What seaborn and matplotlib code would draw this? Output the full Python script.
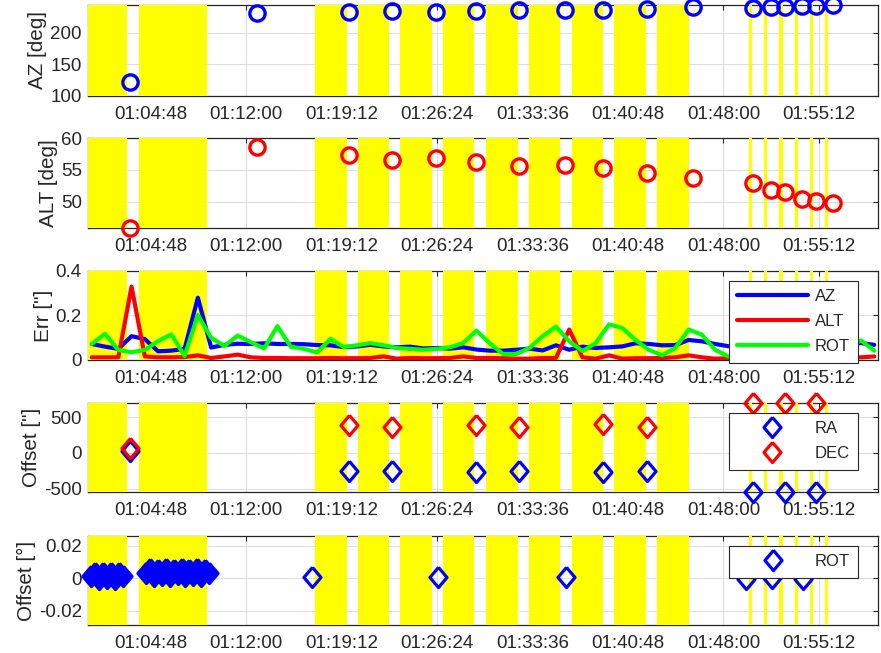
import numpy as np
import pandas as pd
import matplotlib
matplotlib.use("Agg")
import matplotlib.pyplot as plt
from matplotlib.lines import Line2D
import seaborn as sns

DAY = "2021-01-01 "

# shaded (yellow) intervals
band_start = ["01:00:00", "01:03:56", "01:17:12", "01:20:27", "01:23:37", "01:26:51", "01:30:06",
              "01:33:20", "01:36:35", "01:39:45", "01:42:59",
              "01:49:54", "01:51:04", "01:52:13", "01:53:24", "01:54:32", "01:55:40"]
band_end = ["01:03:02", "01:09:04", "01:19:37", "01:22:47", "01:26:01", "01:29:11", "01:32:30",
            "01:35:40", "01:38:55", "01:42:09", "01:45:24",
            "01:50:08", "01:51:18", "01:52:27", "01:53:38", "01:54:46", "01:55:54"]

# pointing samples
pt_time = ["01:03:15", "01:12:51", "01:19:45", "01:23:00", "01:26:18", "01:29:19", "01:32:35", "01:36:03",
           "01:38:56", "01:42:13", "01:45:43", "01:50:15", "01:51:35", "01:52:38", "01:53:54", "01:54:57",
           "01:56:17"]
az = [122.6, 231.6, 233, 234, 233, 234.7, 235.8, 235.8, 235.8, 236.8, 240, 238.4, 240, 241, 242, 242, 243.7]
alt = [45.9, 58.6, 57.4, 56.6, 56.8, 56.3, 55.6, 55.8, 55.3, 54.5, 53.8, 52.9, 51.8, 51.5, 50.5, 50.2, 49.8]

# RA / DEC offsets
off_time = ["01:03:15", "01:19:45", "01:23:00", "01:29:19", "01:32:35", "01:38:56", "01:42:13",
            "01:50:15", "01:52:38", "01:54:57"]
ra = [25, -257, -247, -265, -247, -265, -247, -545, -545, -545]
dec = [65, 395, 357, 395, 357, 404, 357, 697, 697, 697]

# tracking errors, one sample per minute
err_first = "01:00:22"
err_az = [0.072, 0.06, 0.05, 0.107, 0.094, 0.039, 0.042, 0.05, 0.28, 0.056,
          0.068, 0.073, 0.072, 0.075, 0.072, 0.072, 0.071, 0.067, 0.066, 0.058,
          0.061, 0.068, 0.061, 0.057, 0.06, 0.052, 0.054, 0.051, 0.057, 0.047,
          0.042, 0.042, 0.046, 0.051, 0.043, 0.066, 0.046, 0.06, 0.054, 0.057,
          0.061, 0.075, 0.072, 0.066, 0.067, 0.09, 0.084, 0.072, 0.062, 0.07,
          0.068, 0.065, 0.07, 0.066, 0.064, 0.07, 0.072, 0.075, 0.076, 0.068]
err_alt = [0.012, 0.012, 0.012, 0.33, 0.016, 0.012, 0.012, 0.013, 0.021, 0.009,
           0.016, 0.024, 0.012, 0.009, 0.009, 0.008, 0.008, 0.008, 0.009, 0.008,
           0.008, 0.009, 0.016, 0.006, 0.009, 0.008, 0.008, 0.009, 0.016, 0.009,
           0.009, 0.008, 0.006, 0.006, 0.009, 0.009, 0.137, 0.012, 0.006, 0.021,
           0.006, 0.008, 0.008, 0.009, 0.012, 0.021, 0.012, 0.006, 0.008, 0.01,
           0.012, 0.009, 0.011, 0.01, 0.012, 0.009, 0.01, 0.011, 0.012, 0.016]
err_rot = [0.072, 0.118, 0.045, 0.035, 0.045, 0.085, 0.115, 0.018, 0.202, 0.1,
           0.063, 0.11, 0.08, 0.052, 0.152, 0.06, 0.05, 0.034, 0.095, 0.058,
           0.066, 0.076, 0.066, 0.054, 0.05, 0.046, 0.05, 0.057, 0.076, 0.132,
           0.076, 0.027, 0.027, 0.054, 0.107, 0.15, 0.084, 0.04, 0.076, 0.16,
           0.144, 0.09, 0.046, 0.021, 0.054, 0.137, 0.114, 0.046, 0.016, 0.03,
           0.045, 0.05, 0.04, 0.05, 0.06, 0.045, 0.05, 0.055, 0.088, 0.042]

# rotator offsets: dense runs while the offsets were being applied, then single checks
rot_run_time = ["01:00:18", "01:00:36", "01:00:54", "01:01:12", "01:01:30", "01:01:48", "01:02:06",
                "01:02:24", "01:02:42",
                "01:04:26", "01:04:44", "01:05:02", "01:05:20", "01:05:38", "01:05:56", "01:06:14",
                "01:06:32", "01:06:50", "01:07:08", "01:07:26", "01:07:44", "01:08:02", "01:08:20",
                "01:08:38", "01:08:56", "01:09:14"]
rot_run = [0.0015, 0.0035, -0.0005, 0.003, 0.0, 0.0035, -0.0005, 0.003, 0.0015,
           0.0035, 0.0055, 0.0015, 0.005, 0.002, 0.0055, 0.0015, 0.005, 0.0025, 0.0055, 0.0015,
           0.005, 0.002, 0.0055, 0.0015, 0.005, 0.0035]
rot_time = ["01:16:57", "01:26:29", "01:36:08", "01:49:42", "01:51:41", "01:54:01"]
rot = [0.0006, 0.0006, 0.0006, -0.0002, 0.0002, -0.0002]

xtick_labels = ["01:04:48", "01:12:00", "01:19:12", "01:26:24", "01:33:36", "01:40:48", "01:48:00", "01:55:12"]
x_range = ["01:00:05", "01:59:39"]


def to_time(values):
    return pd.to_datetime([DAY + v for v in values])


sns.set_theme(style="white")
plt.rcParams["font.family"] = ["Liberation Sans", "DejaVu Sans"]

INK = "#262626"
YELLOW = (1, 1, 0)
DIAMOND = [(0, 1), (0.85, 0), (0, -1), (-0.85, 0), (0, 1)]
DMS = 14.5

fig = plt.figure(figsize=(8.81, 6.53), dpi=100)
positions = [[0.0999, 0.853, 0.8967, 0.1394],
             [0.0999, 0.6508, 0.8967, 0.1378],
             [0.0999, 0.4487, 0.8967, 0.1363],
             [0.0999, 0.2466, 0.8967, 0.1363],
             [0.0999, 0.0429, 0.8967, 0.1363]]
axes = [fig.add_axes(p) for p in positions]

# AZ
sns.lineplot(x=to_time(pt_time), y=az, ax=axes[0], estimator=None, sort=False, linestyle="",
             marker="o", ms=11, mfc="none", mec="blue", mew=2.4, color="blue", zorder=5, clip_on=False)
# ALT
sns.lineplot(x=to_time(pt_time), y=alt, ax=axes[1], estimator=None, sort=False, linestyle="",
             marker="o", ms=11, mfc="none", mec="red", mew=2.4, color="red", zorder=5, clip_on=False)

# Err
err_time = pd.date_range(DAY + err_first, periods=len(err_az), freq="60s")
err_df = pd.DataFrame({
    "time": np.concatenate([err_time] * 3),
    "err": err_az + err_alt + err_rot,
    "axis": ["AZ"] * len(err_az) + ["ALT"] * len(err_alt) + ["ROT"] * len(err_rot),
})
err_colors = {"AZ": "blue", "ALT": "red", "ROT": (0, 1, 0)}
sns.lineplot(data=err_df, x="time", y="err", hue="axis", hue_order=["AZ", "ALT", "ROT"],
             palette=err_colors, estimator=None, sort=False, lw=3, legend=False, ax=axes[2], zorder=5)

# RA / DEC offsets
sns.lineplot(x=to_time(off_time), y=ra, ax=axes[3], estimator=None, sort=False, linestyle="",
             marker=DIAMOND, ms=DMS, mfc="none", mec="blue", mew=2.3, color="blue", zorder=5, clip_on=False)
sns.lineplot(x=to_time(off_time), y=dec, ax=axes[3], estimator=None, sort=False, linestyle="",
             marker=DIAMOND, ms=DMS, mfc="none", mec="red", mew=2.3, color="red", zorder=6, clip_on=False)

# ROT offsets
sns.lineplot(x=to_time(rot_run_time), y=rot_run, ax=axes[4], estimator=None, sort=False, linestyle="",
             marker=DIAMOND, ms=DMS, mfc="blue", mec="blue", mew=2.3, color="blue", zorder=5, clip_on=False)
sns.lineplot(x=to_time(rot_time), y=rot, ax=axes[4], estimator=None, sort=False, linestyle="",
             marker=DIAMOND, ms=DMS, mfc="none", mec="blue", mew=2.3, color="blue", zorder=5, clip_on=False)

ylims = [(100, max(az)), (min(alt), 60), (0, 0.4), (min(ra), max(dec)), (-0.0288, 0.026)]
yticks = [[100, 150, 200], [50, 55, 60], [0, 0.2, 0.4], [-500, 0, 500], [-0.02, 0, 0.02]]
yticklabels = [["100", "150", "200"], ["50", "55", "60"], ["0", "0.2", "0.4"],
               ["-500", "0", "500"], ["-0.02", "0", "0.02"]]
ylabels = ["AZ [deg]", "ALT [deg]", 'Err ["]', 'Offset ["]', "Offset [°]"]

xticks = to_time(xtick_labels)
xlim = to_time(x_range)
starts = to_time(band_start)
ends = to_time(band_end)

for i, ax in enumerate(axes):
    for s, e in zip(starts, ends):
        ax.axvspan(s, e, color=YELLOW, lw=0, zorder=3)
    ax.set_xlim(xlim[0], xlim[1])
    ax.set_ylim(*ylims[i])
    ax.set_xticks(xticks)
    ax.set_xticklabels(xtick_labels)
    ax.set_yticks(yticks[i])
    ax.set_yticklabels(yticklabels[i])
    ax.set_xlabel("")
    ax.set_ylabel(ylabels[i], fontsize=14.85, color=INK, labelpad=2)
    ax.grid(True, color="#dedede", lw=0.8)
    ax.set_axisbelow(True)
    ax.tick_params(direction="in", top=True, right=True, length=3.5, width=0.8, colors=INK,
                   labelsize=13.5)
    ax.tick_params(axis="x", pad=7.5)
    ax.tick_params(axis="y", pad=4.5)
    for sp in ax.spines.values():
        sp.set_color(INK)
        sp.set_linewidth(0.9)

legend_kw = dict(loc="upper right", bbox_to_anchor=(0.975, 0.888), borderaxespad=0, fontsize=12,
                 frameon=True, fancybox=False, framealpha=1, edgecolor=INK, handlelength=4.25,
                 handletextpad=0.42, borderpad=0.5, labelspacing=0.6)

err_handles = [Line2D([], [], color=err_colors[k], lw=3, label=k) for k in ["AZ", "ALT", "ROT"]]
leg = axes[2].legend(handles=err_handles, **legend_kw)
leg.get_frame().set_linewidth(0.8)
leg.set_zorder(10)

off_handles = [Line2D([], [], ls="", marker=DIAMOND, ms=DMS, mfc="none", mec=c, mew=2.3, label=l)
               for c, l in [("blue", "RA"), ("red", "DEC")]]
leg = axes[3].legend(handles=off_handles, **legend_kw)
leg.get_frame().set_linewidth(0.8)
leg.set_zorder(10)

rot_handles = [Line2D([], [], ls="", marker=DIAMOND, ms=DMS, mfc="none", mec="blue", mew=2.3, label="ROT")]
leg = axes[4].legend(handles=rot_handles, **legend_kw)
leg.get_frame().set_linewidth(0.8)
leg.set_zorder(10)

fig.savefig("out.png", dpi=100)
